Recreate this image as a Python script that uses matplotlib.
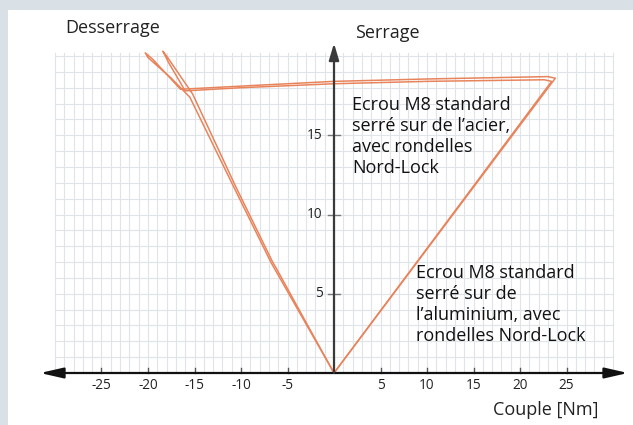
import matplotlib
matplotlib.use("Agg")
import matplotlib.pyplot as plt
from matplotlib.patches import Rectangle

# ---- data ----
xticks = [-25, -20, -15, -10, -5, 5, 10, 15, 20, 25]
yticks = [5, 10, 15]

# run 1 (outer)
run1_x = [0, 23.8, 23.0, 10, 0, -10, -16.5, -19.5, -20.3, -20.0, -17.5, -15.5, -11.0, -7.3, -6.8, -3.5, 0]
run1_y = [0, 18.6, 18.7, 18.55, 18.4, 18.1, 17.9, 19.8, 20.2, 19.9, 18.6, 17.4, 12.0, 7.6, 7.0, 3.6, 0]
# run 2 (inner)
run2_x = [0, 23.4, 22.6, 10, 0, -10, -16.0, -17.8, -18.4, -18.0, -15.2, -10.6, -6.6, -6.2, -3.2, 0]
run2_y = [0, 18.4, 18.5, 18.4, 18.25, 18.0, 17.8, 19.6, 20.3, 20.0, 17.6, 11.8, 7.0, 6.6, 3.4, 0]

label_left = "Desserrage"
label_top = "Serrage"
xlabel = "Couple [Nm]"
note1 = "Ecrou M8 standard\nserré sur de l\u2019acier,\navec rondelles\nNord-Lock"
note2 = "Ecrou M8 standard\nserré sur de\nl\u2019aluminium, avec\nrondelles Nord-Lock"

W, H = 633, 425
X0, Y0 = 334.0, 373.0     # pixel of origin
SX, SY = 9.3, 15.85       # pixels per unit

fig = plt.figure(figsize=(W / 100, H / 100), dpi=100)
fig.patch.set_facecolor("#d9e1e7")
fig.add_artist(Rectangle((8 / W, 0), 1 - 8 / W, 1 - 10 / H, transform=fig.transFigure,
                         facecolor="white", edgecolor="none", zorder=0))
ax = fig.add_axes([0, 0, 1, 1])
ax.set_axis_off()
ax.patch.set_alpha(0)
ax.set_xlim(-X0 / SX, (W - X0) / SX)
ax.set_ylim(-(H - Y0) / SY, Y0 / SY)

fam = ["Open Sans", "DejaVu Sans"]

# grid
gcol = "#dfe4e8"
for gx in range(-30, 31):
    ax.plot([gx, gx], [0, 20.2], color=gcol, lw=0.8, zorder=1)
for gy in range(1, 21):
    ax.plot([-30, 30], [gy, gy], color=gcol, lw=0.8, zorder=1)

# axes arrows
ax.annotate("", xy=(31.6, 0), xytext=(-31.6, 0),
            arrowprops=dict(arrowstyle="<|-|>,head_length=1.4,head_width=0.32",
                            mutation_scale=10, color="#111111", lw=1.6,
                            shrinkA=0, shrinkB=0), zorder=4)
ax.annotate("", xy=(0, 20.8), xytext=(0, 0),
            arrowprops=dict(arrowstyle="-|>,head_length=1.0,head_width=0.3",
                            mutation_scale=10, color="#3a3a3a", lw=1.6,
                            shrinkA=0, shrinkB=0), zorder=4)

# ticks
for t in xticks:
    ax.plot([t, t], [0, 0.32], color="#555555", lw=1.0, zorder=3)
    ax.text(t, -0.82, str(t), ha="center", va="center", fontsize=9.8, family=fam, color="#222222")
for t in yticks:
    ax.plot([-0.6, 0.6], [t, t], color="#777777", lw=1.0, zorder=3)
    ax.text(-1.2, t, str(t), ha="right", va="center", fontsize=9.8, family=fam, color="#222222")

# curves
ccol = "#e8845c"
ax.plot(run1_x, run1_y, color=ccol, lw=1.1, zorder=2)
ax.plot(run2_x, run2_y, color=ccol, lw=1.1, zorder=2)

# texts
ax.text(-28.9, 21.77, label_left, ha="left", va="center", fontsize=13, family=fam, color="#222222")
ax.text(2.26, 21.45, label_top, ha="left", va="center", fontsize=13, family=fam, color="#222222")
ax.text(28.4, -2.33, xlabel, ha="right", va="center", fontsize=13, family=fam, color="#222222")
ax.text(1.94, 17.5, note1, ha="left", va="top", fontsize=13, family=fam, color="#111111",
        linespacing=1.22)
ax.text(8.8, 6.9, note2, ha="left", va="top", fontsize=13, family=fam, color="#111111",
        linespacing=1.22)

fig.savefig("out.png", dpi=100)
